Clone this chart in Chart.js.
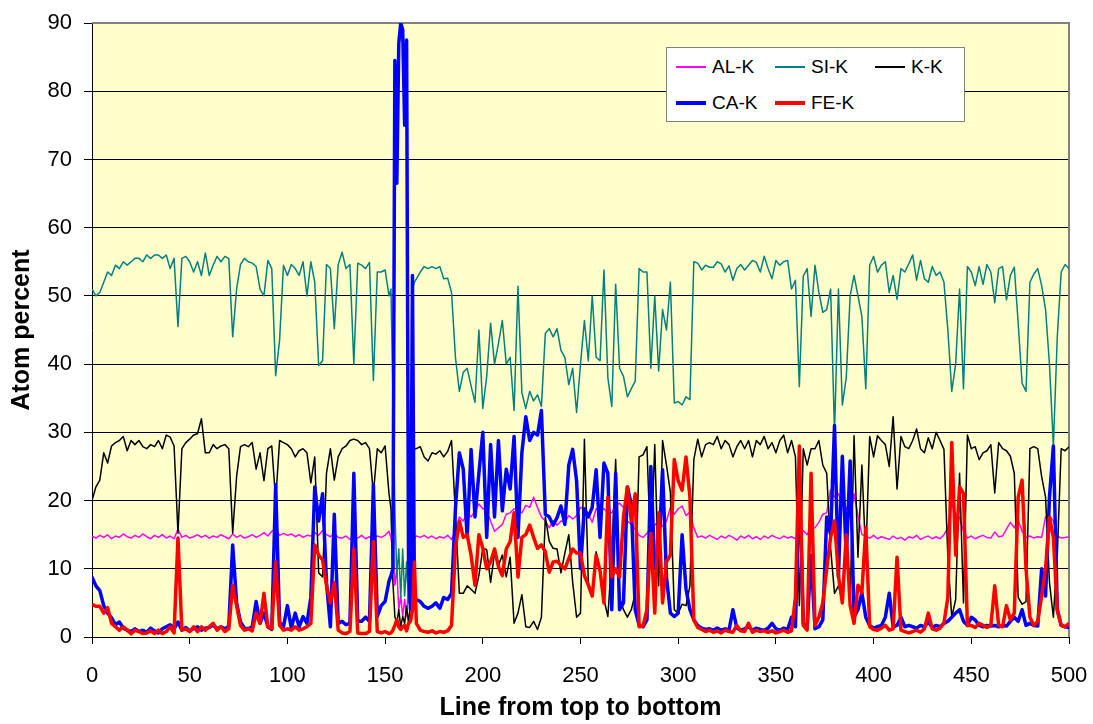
<!DOCTYPE html>
<html>
<head>
<meta charset="utf-8">
<title>Atom percent along the line</title>
<script src="https://cdn.jsdelivr.net/npm/chart.js@4.4.0/dist/chart.umd.min.js"></script>
<style>
    body { margin: 0; background: #fff; }
    .wrap { position: relative; width: 1093px; height: 724px; }
    #myChart { display: block; }
    .legend {
        position: absolute; left: 666px; top: 47px; width: 297px; height: 73px;
        background: #fff; border: 1px solid #808080;
        font-family: "Liberation Sans", Arial, sans-serif; font-size: 19px; color: #000;
    }
    .legend__item { position: absolute; height: 24px; display: flex; align-items: center; white-space: nowrap; }
    .legend__line { display: block; width: 30px; margin-right: 6px; }
</style>
</head>
<body>
<div class="wrap">
    <canvas id="myChart" width="1093" height="724"></canvas>
    <div class="legend" id="legend"></div>
</div>
<script>
// line number (x) where each reading was taken
let lineNo = [
    0,2,4,6,8,10,12,14,16,18,
    20,22,24,26,28,30,32,34,36,38,
    40,42,44,46,48,50,52,54,56,58,
    60,62,64,66,68,70,72,74,76,78,
    80,82,84,86,88,90,92,94,96,98,
    100,102,104,106,108,110,112,114,116,118,
    120,122,124,126,128,130,132,134,136,138,
    140,142,144,146,148,150,152,
    153,154,155,156,157,158,159,160,161,162,163,164,165,166,
    168,170,172,174,176,178,180,182,184,186,
    188,190,192,194,196,198,200,202,204,206,
    208,210,212,214,216,218,220,222,224,226,
    228,230,232,234,236,238,240,242,244,246,
    248,250,252,254,256,258,260,262,264,266,
    268,270,272,274,276,278,280,282,284,286,
    288,290,292,294,296,298,300,302,304,306,
    308,310,312,314,316,318,320,322,324,326,
    328,330,332,334,336,338,340,342,344,346,
    348,350,352,354,356,358,360,362,364,366,
    368,370,372,374,376,378,380,382,384,386,
    388,390,392,394,396,398,400,402,404,406,
    408,410,412,414,416,418,420,422,424,426,
    428,430,432,434,436,438,440,442,444,446,
    448,450,452,454,456,458,460,462,464,466,
    468,470,472,474,476,478,480,482,484,486,
    488,490,492,494,496,498,500
];

let alK = [
    14.8,14.5,14.9,14.6,15,14.4,14.8,14.6,15.1,14.7,
    14.5,14.9,14.6,15.1,14.7,14.4,14.9,14.6,15,14.5,
    14.8,14.4,15.8,14.6,14.9,14.5,14.7,15,14.6,14.9,
    14.5,14.8,14.6,15,14.7,14.4,15.1,14.6,14.9,14.5,
    14.7,15,14.6,14.9,15.3,14.8,15.5,15.8,14.9,15.2,
    14.9,15.1,14.7,15,14.6,14.9,14.8,15.3,14.9,15.6,
    15,14.7,15.2,14.6,14.5,14.8,14.3,14.7,14.5,14.9,
    14.4,14.7,14.5,14.8,14.6,14.9,15.5,
    14.5,13,7.6,10,4,6,3,5.5,3,8,4,14,14.5,14.8,
    14.6,14.9,14.5,14.8,14.4,14.7,14.5,14.9,14.3,15.5,
    17.6,17,18.2,17.6,18.5,19.5,18.8,18.5,17,15.5,
    16,16.5,18,18.2,18.8,18.5,18.2,19.3,19,20.5,
    19,17.6,17,16,17,16.4,17,16.8,17.8,17.3,
    17.8,19,18.8,18,16.8,18.8,18.5,18.8,18.2,18.2,
    19.3,19.6,19,17,16.5,15.8,14.9,14.6,15.2,15.8,
    16.4,17,16.2,17,19,18,18.8,19.2,17.8,18.3,
    16,14.6,14.8,14.5,14.9,14.6,14.3,14.8,14.5,14.9,
    14.6,14.2,14.8,14.5,14.9,14.4,14.7,14.3,14.8,14.5,
    14.9,14.6,14.4,14.8,14.5,14.7,14.4,14.9,15.6,15,
    16.2,16,16.8,18,18.2,21.6,20.5,21,19.5,19,
    17.5,21,17.8,15,14.8,14.5,14.9,14.4,14.7,14.5,
    14.3,14.8,14.4,14.6,14.2,14.7,14.5,14.9,14.3,14.6,
    14.8,14.4,14.7,14.4,15,16,19.5,18,17.5,15.5,
    14.5,14.8,14.4,14.7,14.9,14.6,14.5,15.4,14.7,14.8,
    15.8,16.8,16,17.2,15.5,14.6,14.8,14.5,14.7,14.6,
    17.6,17.8,17,14.8,14.5,14.6,14.7
];

let siK = [
    51,50,50.5,52,53.5,53,54.5,54,55,54.5,
    55,55.5,55.5,55,56,55.5,56,56,55.5,56,
    54,55.5,45.5,55.5,55.8,55,53.5,55,53,56.3,
    53,54.5,55.8,55,55.8,55.5,44,51,54.6,55.5,
    55,54.8,54.3,51,50,55.2,54,38.3,43.5,54.5,
    53,54.6,54,53,55,50,55,52,39.8,40.5,
    54.6,54,45.2,54.6,56.4,54,54.6,40,54.8,54.5,
    54,54.9,37.6,53.5,53.5,53.8,50,
    51,35,18.8,8.8,12.9,5.8,12.9,6,11,5,8,51,52,52.5,
    53.5,54.3,54,54.3,54,54.3,52.5,52.6,50.5,41,
    36,38.8,39.4,36.8,34.4,45,33.5,38.2,46,40,
    43,46.4,40,41,33.2,51.4,35.8,33.5,36,34.6,
    35.5,33.8,44.5,45.2,44,45.2,42,41,37,39.4,
    32.9,40,46.4,40.5,50,41,40.5,53.8,38,33.8,
    51.7,39.4,38.2,35.2,36.4,37.5,54,53.5,53.5,39.4,
    50,39,48,45,52,34.3,34.5,34,35.2,34.8,
    55,54.8,53.8,54.5,54.2,54.2,55,54.7,53.5,54.4,
    52.3,54,54.6,53.8,54.5,55.2,54.9,53.5,55.8,54,
    52.5,55.2,54.5,55,55.2,51,52.3,36.7,52.9,54,
    47,54.5,50.5,47.6,48,51,30,51,34,38,
    50,53,50,47,36.4,54.5,55.8,53.5,54.5,55,
    50.5,53,49.5,54,53.5,54.7,56,52.3,55.2,52.5,
    52,54.3,53,53.5,52,45,36,40,51,36.4,
    54.3,53.5,51.5,54.3,51.7,54.6,53.5,49,54,54.3,
    49.4,53,54.2,46,37.2,36,52,53.2,54,51.5,
    48,40,28,44,53.5,54.6,54
];

let kK = [
    20,22,23,27,25.5,28,28.5,28.8,29.4,27.3,
    28.8,28.2,28.8,27.9,27.6,28.2,27.9,28.8,27.6,29.6,
    29.3,28,15.2,27.6,28.5,29,29.6,29.8,32,27,
    27,28.2,27.6,28,28.2,27.6,15.2,23.5,27.9,28.2,
    27.9,28.5,24.6,27,22.9,27.6,28,20,28.8,28.5,
    28.2,27.6,26.4,27.3,27.6,27,22.6,26.4,9.4,8.8,
    24,27.6,23,26.4,27.6,28,28.8,29,28.8,28.2,
    28.5,27.6,21,27.6,27,28,21,
    18.8,8,3,2,4,1.5,3,2,4.5,2,5,18,27.6,27.6,
    27.9,26.4,25.8,27,26.8,27.3,26.4,27.2,28.8,18,
    6.4,6.4,7.5,7,6.4,9,13,12.8,8,12.3,
    10.5,12,8.8,11.7,2,3.5,6.2,1.5,1.4,2.3,
    1.1,2.9,17.6,14,13,12.9,9.4,12.3,15,8,
    2.9,3.5,29,8,6,12.5,9.4,5.5,3,11.7,
    26,5.8,4,2.9,4,6.4,26.4,26.7,27.9,11.7,
    28.2,7.5,28.8,25.2,21.2,4,3.5,4.8,4.6,7.5,
    26,29,26.4,28.2,28.5,28.2,29.4,27.6,28.8,28.2,
    26.4,27.9,28.8,27.6,28.8,26.4,28.8,28.2,29.4,27.6,
    28.5,27,28.8,29.6,27,28.8,26.4,4.6,27.6,25.2,
    27.6,27.6,28.8,25.2,24,13,6.4,7.5,5.5,15,
    4.6,29.5,11.7,25.2,11.7,29.4,26.4,29.5,28.8,28.2,
    25,32.3,21.7,29.4,27.9,27.6,28.8,30.5,27.6,27,
    29.2,27.6,30,28.8,27.5,11.7,2.9,5.5,24,5,
    29.6,27.6,27.9,26,27,27.3,28.2,21.1,28.5,27.6,
    27.3,26.5,24,5.8,4.8,5.2,27.6,27.9,27.6,23.5,
    20.5,8,2.9,12,27.6,27.3,27.9
];

let caK = [
    8.8,7.5,6.8,4.6,3.5,2.8,1.8,2.2,1.3,1,
    0.8,1.2,0.8,1,0.7,1.3,0.9,0.6,1.2,1.5,
    1.8,1.2,2.2,1,1.4,0.9,1.2,1.5,1,1.3,
    1.4,1.8,1.2,1.5,1.2,1.6,13.5,5,2.2,1.3,
    1.2,1.5,5.2,2,3.5,1.5,1.1,22.3,2.2,1.5,
    4.6,1.3,3.5,1.5,3,2,5.8,22,17,21,
    8,1.5,18,2,2.3,1.8,2,24,2.3,2.3,
    2.9,2.3,22.3,3,4.6,5.2,8.2,
    9,10,84.5,66.5,87,90,89,75,87.5,10,4,53,6,5.5,
    5.2,4.5,4.2,4.5,5,4.2,5.8,5.5,6.4,18.8,
    27,24.6,14.6,27.5,17.6,24,30,14.6,28.2,17.6,
    28.8,18.5,24.6,21.7,29.4,14.6,27,32.3,28.8,30,
    29.6,33.2,18,17.6,16.4,17.5,19.2,16.5,25.2,27.5,
    22.9,10,18.8,17.6,19,24.5,14.6,25.5,24,4,
    24,4,5,22,19.4,4,1.7,1.5,2.5,25,
    10,12,24.5,8.8,3.5,3,3.5,15,7,4,
    2.5,1.7,1.3,1.1,1.2,1,1.3,1,1.2,1,
    4,1.3,1,1.2,1.5,1,1.3,1.1,1,1.3,
    2,1.2,1,1.3,1.1,2.9,1.5,24,2,1.5,
    12,1.2,1.5,2.5,17.6,15,31,8.8,26.5,11.7,
    25.8,2.9,4,6.5,2.9,1.7,1.3,1.5,1.7,2.9,
    6.4,1.5,1.7,2.9,1.5,1.7,1.5,1.3,1.7,1.5,
    2.2,1.4,1.7,1.5,2,2.3,2.9,3.5,4,2.3,
    1.7,2.9,2.5,1.7,1.5,1.7,1.6,1.7,1.5,1.7,
    1.6,2.3,2.9,2.3,4,1.7,2,1.7,1.6,10,
    6,20.5,28,4,1.7,1.5,1.4
];

let feK = [
    4.8,4.5,4.5,3.5,4.3,2,1.5,1,1.5,1,
    0.5,1,0.8,0.5,0.6,0.9,0.5,1,0.5,0.8,
    1.5,0.6,14.5,1,1.2,0.8,1.5,0.8,1.5,1,
    1.5,2,1,1.5,0.8,1.2,7.6,4.6,1.7,1,
    1.2,0.9,3.5,2,6.4,1.5,1.2,11,1.7,1,
    1.2,1,1.5,1,1.2,1.5,2,13.5,12,11.3,
    7.6,5,8,1,0.6,0.5,0.8,12.9,0.6,0.5,
    0.5,0.8,14,0.8,0.6,0.8,0.5,
    0.6,1,1.7,2.5,1.5,1.1,1.5,1.7,0.9,2,2.3,4,11,2,
    1,0.8,0.7,0.9,0.6,0.8,0.7,0.9,1.7,13,
    17,14.6,15,12,7.6,15,13,10,11,12.9,
    10.3,9,12.9,14,18.2,8.8,14.6,15,16.4,14.6,
    13,13.5,12.5,9.5,11,11.1,10.5,10,11.5,12.9,
    12.3,12.3,9,7.6,6,12,9.7,5,20.5,8.8,
    10,8.8,17.6,22,17,21,1.5,1.6,4,15.2,
    3.5,18.2,5,11,12,26,22.9,21.5,26.4,20.5,
    2.5,1.4,1.1,0.8,1,0.7,0.9,0.6,1,0.8,
    0.7,1.7,0.9,0.8,2,0.7,1,0.8,0.9,0.7,
    0.9,0.6,0.8,1,0.7,0.9,5.8,28,1.7,1,
    24,1.7,2.9,5,10,14.6,17,9,5,15,
    4.6,2,7.6,6.5,16,1.5,1.1,1,1.3,1.7,
    1,1.2,11.7,1,0.8,0.6,0.8,1,0.7,1.2,
    3.5,1.2,1,1.3,2,5.8,28.5,12,22,21,
    1.7,1.7,1.4,2,1.7,1.4,1.7,7.5,1.7,1.5,
    4.6,2.5,3.5,20.5,23,10,2.9,1.7,2.3,6,
    10,17.5,14.6,4,1.7,1.5,2
];

let seriesNames = ['AL-K', 'SI-K', 'K-K', 'CA-K', 'FE-K'];
let seriesValues = [alK, siK, kK, caK, feK];
let lineColors = ['#FF00FF', '#008080', '#000000', '#0000FF', '#FF0000'];
let lineWidths = [1.5, 1.5, 1.5, 3.5, 3.5];

let fontFamily = '"Liberation Sans", Arial, sans-serif';
let tickFont = { family: fontFamily, size: 22 };
let titleFont = { family: fontFamily, size: 25, weight: 'bold' };

// pair every value with its line number
function toPoints(values) {
    return lineNo.map((x, i) => ({ x: x, y: values[i] }));
}

// yellow plot area with a grey frame on top and right (like excel)
const plotArea = {
    id: 'plotArea',
    beforeDraw(chart) {
        const { ctx, chartArea: a } = chart;
        ctx.save();
        ctx.fillStyle = '#FFFFCC';
        ctx.fillRect(a.left, a.top, a.right - a.left, a.bottom - a.top);
        ctx.restore();
    },
    beforeDatasetsDraw(chart) {
        const { ctx, chartArea: a } = chart;
        ctx.save();
        ctx.strokeStyle = '#808080';
        ctx.lineWidth = 2;
        ctx.beginPath();
        ctx.moveTo(a.left, a.top);
        ctx.lineTo(a.right, a.top);
        ctx.lineTo(a.right, a.bottom);
        ctx.stroke();
        ctx.restore();
    }
};

let datasets = seriesNames.map((name, i) => ({
    label: name,
    data: toPoints(seriesValues[i]),
    borderColor: lineColors[i],
    backgroundColor: lineColors[i],
    borderWidth: lineWidths[i],
    order: seriesNames.length - i, // last series drawn on top
    fill: false
}));

let ctx = document.getElementById('myChart').getContext('2d');
let myChart = new Chart(ctx, {
    type: 'line',
    data: { datasets: datasets },
    options: {
        responsive: false,
        animation: false,
        devicePixelRatio: 1,
        layout: { padding: { top: 23, right: 24, bottom: 0, left: 0 } },
        elements: { point: { radius: 0 }, line: { tension: 0, borderJoinStyle: 'round' } },
        plugins: { legend: { display: false }, tooltip: { enabled: false } },
        scales: {
            x: {
                type: 'linear',
                min: 0,
                max: 500,
                ticks: { stepSize: 50, padding: 19, font: tickFont, color: '#000', maxRotation: 0 },
                grid: { drawOnChartArea: false, tickLength: 7, color: '#000' },
                border: { color: '#000', width: 1 },
                title: { display: true, text: 'Line from top to bottom', font: titleFont, color: '#000', padding: { top: 0, bottom: 1 } },
                afterFit: (scale) => {
                    scale.height = 87;
                    scale.paddingLeft = 0;
                    scale.paddingRight = 0;
                }
            },
            y: {
                min: 0,
                max: 90,
                ticks: { stepSize: 10, padding: 12, font: tickFont, color: '#000' },
                grid: {
                    color: (c) => (c.tick && c.tick.value === 90) ? '#808080' : '#000',
                    tickColor: '#000',
                    tickLength: 8
                },
                border: { color: '#000', width: 1 },
                title: { display: true, text: 'Atom percent', font: titleFont, color: '#000', padding: { top: 7, bottom: 0 } },
                afterFit: (scale) => {
                    scale.width = 92;
                    scale.paddingTop = 0;
                    scale.paddingBottom = 0;
                }
            }
        }
    },
    plugins: [plotArea]
});

// legend box: 3 entries on the first row, 2 on the second
let legendPos = [[9, 7], [108, 7], [208, 7], [9, 43], [108, 43]];
let legend = document.getElementById('legend');
seriesNames.forEach((name, i) => {
    let item = document.createElement('div');
    item.className = 'legend__item';
    item.style.left = legendPos[i][0] + 'px';
    item.style.top = legendPos[i][1] + 'px';
    let line = document.createElement('span');
    line.className = 'legend__line';
    line.style.height = (lineWidths[i] > 2 ? 4 : 2) + 'px';
    line.style.backgroundColor = lineColors[i];
    let text = document.createElement('span');
    text.textContent = name;
    item.appendChild(line);
    item.appendChild(text);
    legend.appendChild(item);
});
</script>
</body>
</html>
